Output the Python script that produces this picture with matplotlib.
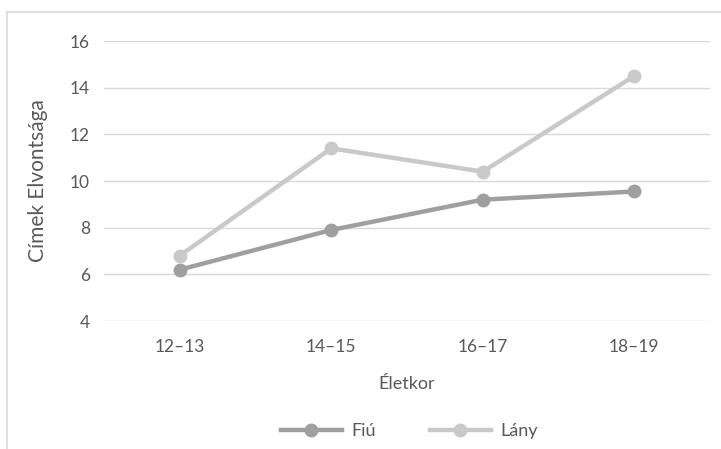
import matplotlib.pyplot as plt
from matplotlib.lines import Line2D

plt.rcParams['font.family'] = ['Lato', 'DejaVu Sans']

age_groups = ['12–13', '14–15', '16–17', '18–19']
fiu = [6.2, 7.9, 9.2, 9.55]
lany = [6.8, 11.4, 10.4, 14.5]
y_ticks = [4, 6, 8, 10, 12, 14, 16]

text_color = '#595959'
fiu_color = '#9f9f9f'
lany_color = '#c9c9c9'

fig = plt.figure(figsize=(7.21, 4.49), dpi=100)
ax = fig.add_axes([104 / 721, 1 - 321 / 449, (710 - 104) / 721, 280 / 449])

x = list(range(len(age_groups)))
ax.plot(x, fiu, color=fiu_color, lw=3.2, marker='o', ms=9, solid_capstyle='round', zorder=3)
ax.plot(x, lany, color=lany_color, lw=3.2, marker='o', ms=9, solid_capstyle='round', zorder=3)

ax.set_xlim(-0.5, len(age_groups) - 0.5)
ax.set_ylim(4, 16)
ax.set_yticks(y_ticks)
ax.set_xticks(x)
ax.set_xticklabels(age_groups)
ax.yaxis.grid(True, color='#d9d9d9', lw=1)
ax.set_axisbelow(True)
for s in ax.spines.values():
    s.set_visible(False)
ax.tick_params(length=0, labelsize=12.5, colors=text_color)
ax.tick_params(axis='x', pad=13)
ax.tick_params(axis='y', pad=10)

ax.set_xlabel('Életkor', fontsize=13, color=text_color, labelpad=15)
ax.set_ylabel('Címek Elvontsága', fontsize=15, color=text_color, labelpad=16)

handles = [
    Line2D([], [], color=fiu_color, lw=3.2, marker='o', ms=9),
    Line2D([], [], color=lany_color, lw=3.2, marker='o', ms=9),
]
fig.legend(handles, ['Fiú', 'Lány'], loc='center', bbox_to_anchor=(409 / 721, 1 - 431 / 449),
           ncol=2, frameon=False, fontsize=13, labelcolor=text_color,
           handlelength=3.4, columnspacing=3.0, handletextpad=0.5)

# chart area outline (left and top edges)
fig.add_artist(Line2D([7 / 721, 7 / 721], [0, 1 - 12 / 449], color='#d9d9d9', lw=1.2,
                      transform=fig.transFigure))
fig.add_artist(Line2D([7 / 721, 1], [1 - 12 / 449, 1 - 12 / 449], color='#d9d9d9', lw=1.2,
                      transform=fig.transFigure))

fig.savefig('out.png', dpi=100)
